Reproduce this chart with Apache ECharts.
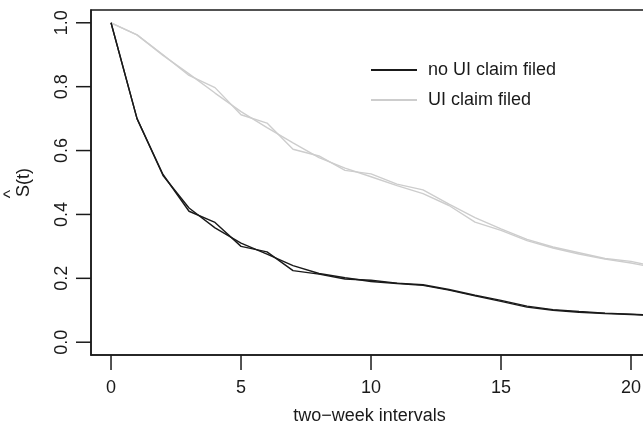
<!DOCTYPE html>
<html>
<head>
<meta charset="utf-8">
<script src="https://cdn.jsdelivr.net/npm/echarts@6/dist/echarts.min.js"></script>
<style>
  html, body { margin: 0; padding: 0; background: #ffffff; }
  #chart { width: 643px; height: 429px; }
</style>
</head>
<body>
<div id="chart"></div>
<script>
// Survival estimates by two-week interval, two estimates per group
const intervals = [0, 1, 2, 3, 4, 5, 6, 7, 8, 9, 10, 11, 12, 13, 14, 15, 16, 17, 18, 19, 20, 21];

const noClaimA = [1.000, 0.700, 0.525, 0.410, 0.375, 0.300, 0.283, 0.224, 0.213, 0.198, 0.194, 0.185,
                  0.180, 0.165, 0.147, 0.131, 0.113, 0.102, 0.096, 0.091, 0.088, 0.084];
const noClaimB = [1.000, 0.700, 0.522, 0.420, 0.358, 0.310, 0.276, 0.240, 0.215, 0.202, 0.190, 0.184,
                  0.178, 0.163, 0.145, 0.128, 0.110, 0.100, 0.094, 0.090, 0.087, 0.083];

const claimA = [1.000, 0.962, 0.900, 0.835, 0.797, 0.712, 0.686, 0.604, 0.583, 0.538, 0.527, 0.495,
                0.477, 0.432, 0.390, 0.355, 0.322, 0.298, 0.280, 0.262, 0.253, 0.235];
const claimB = [1.000, 0.962, 0.898, 0.840, 0.780, 0.722, 0.672, 0.624, 0.578, 0.545, 0.518, 0.490,
                0.465, 0.428, 0.376, 0.350, 0.318, 0.295, 0.276, 0.260, 0.248, 0.232];

const xTicks = [0, 5, 10, 15, 20];
const yTicks = [0, 0.2, 0.4, 0.6, 0.8, 1.0];

const seriesNames = ['no UI claim filed', 'UI claim filed'];

const X_MIN = -0.77, X_MAX = 21;
const Y_MIN = -0.04, Y_MAX = 1.04;

const GRID = { left: 91, top: 10, height: 345, right: -14 };
const CHART_W = 643;

const FONT = '"Liberation Sans", Arial, Helvetica, sans-serif';
const INK = '#1a1a1a';
const GREY = '#cdcdcd';
const TICK_LEN = 15;
const TICK_W = 1.5;

const pairs = (ys) => intervals.map((t, i) => [t, ys[i]]);

function lineSeries(name, ys, color) {
  return {
    type: 'line',
    name: name,
    data: pairs(ys),
    showSymbol: false,
    symbol: 'none',
    silent: true,
    animation: false,
    clip: true,
    lineStyle: { color: color, width: 1.4 },
    itemStyle: { color: color }
  };
}

// Linear mapping matching the grid layout and axis ranges above
const plotW = CHART_W - GRID.left - GRID.right;
const xPix = (x) => GRID.left + (x - X_MIN) / (X_MAX - X_MIN) * plotW;
const yPix = (y) => GRID.top + GRID.height - (y - Y_MIN) / (Y_MAX - Y_MIN) * GRID.height;

// Outward tick marks on the bottom and left edges of the plot box, as thin filled bars
const tickMarks = [];
xTicks.forEach((v) => {
  tickMarks.push({
    type: 'rect', silent: true, z: 100,
    shape: { x: xPix(v) - TICK_W / 2, y: yPix(Y_MIN), width: TICK_W, height: TICK_LEN },
    style: { fill: INK }
  });
});
yTicks.forEach((v) => {
  tickMarks.push({
    type: 'rect', silent: true, z: 100,
    shape: { x: xPix(X_MIN) - TICK_LEN, y: yPix(v) - TICK_W / 2, width: TICK_LEN, height: TICK_W },
    style: { fill: INK }
  });
});

const hat = {
  type: 'text',
  x: 11, y: 194,
  rotation: Math.PI / 2,
  silent: true,
  style: { text: '^', fill: INK, font: '18px ' + FONT, align: 'center', verticalAlign: 'middle' }
};

const axisInk = { color: INK, width: 1.5 };

const chart = echarts.init(document.getElementById('chart'), null, { renderer: 'canvas' });

chart.setOption({
  backgroundColor: '#ffffff',
  animation: false,
  grid: Object.assign({}, GRID, {
    outerBoundsMode: 'none',
    containLabel: false,
    show: true, borderColor: INK, borderWidth: 1.5, backgroundColor: 'transparent'
  }),
  xAxis: {
    type: 'value',
    min: X_MIN, max: X_MAX,
    axisLine: { show: true, onZero: false, lineStyle: axisInk },
    splitLine: { show: false },
    axisTick: { show: false },
    axisLabel: { customValues: xTicks, fontSize: 18, margin: 24, color: INK, fontFamily: FONT },
    name: 'two\u2212week intervals',
    nameLocation: 'middle',
    nameGap: 52,
    nameMoveOverlap: false,
    nameTextStyle: { fontSize: 18, color: INK, fontFamily: FONT, padding: [0, 9, 0, 0] }
  },
  yAxis: {
    type: 'value',
    min: Y_MIN, max: Y_MAX,
    axisLine: { show: true, onZero: false, lineStyle: axisInk },
    splitLine: { show: false },
    axisTick: { show: false },
    axisLabel: {
      customValues: yTicks, rotate: 90, fontSize: 18, margin: 20, color: INK, fontFamily: FONT,
      formatter: (v) => v.toFixed(1)
    },
    name: 'S(t)',
    nameLocation: 'middle',
    nameRotate: 90,
    nameGap: 58,
    nameMoveOverlap: false,
    nameTextStyle: { fontSize: 18, color: INK, fontFamily: FONT }
  },
  legend: {
    data: seriesNames,
    orient: 'vertical',
    left: 366,
    top: 55,
    icon: 'rect',
    itemWidth: 46,
    itemHeight: 2,
    itemGap: 10,
    selectedMode: false,
    textStyle: { fontSize: 18, lineHeight: 20, color: INK, fontFamily: FONT, padding: [0, 0, 0, 6] }
  },
  graphic: [hat].concat(tickMarks),
  series: [
    lineSeries(seriesNames[1], claimA, GREY),
    lineSeries(seriesNames[1], claimB, GREY),
    lineSeries(seriesNames[0], noClaimA, INK),
    lineSeries(seriesNames[0], noClaimB, INK)
  ]
});
</script>
</body>
</html>
